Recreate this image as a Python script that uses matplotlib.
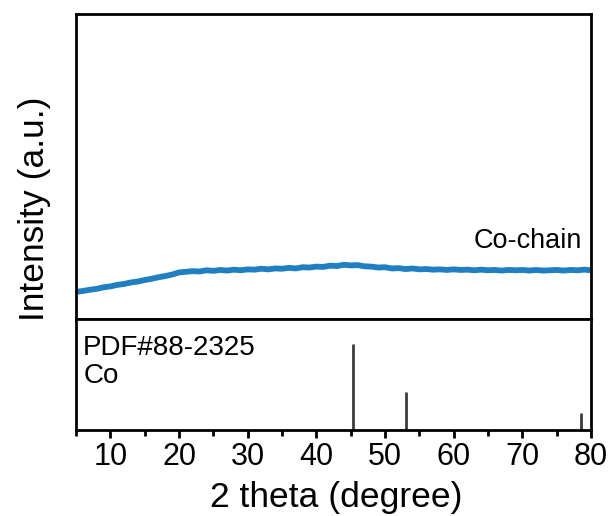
import numpy as np
import matplotlib.pyplot as plt

plt.rcParams['font.family'] = ['Liberation Sans', 'DejaVu Sans']

# Co-chain XRD pattern (arbitrary units)
two_theta = list(range(5, 81))
intensity = [8.9, 9.2, 9.6, 9.9, 10.4, 10.7, 11.2, 11.5, 12.0, 12.3,
             12.8, 13.2, 13.7, 14.1, 14.6, 15.3, 15.5, 15.7, 15.6, 16.0,
             15.8, 16.1, 15.9, 16.2, 16.0, 16.3, 16.2, 16.5, 16.3, 16.6,
             16.5, 16.8, 16.6, 17.0, 16.9, 17.2, 17.1, 17.5, 17.4, 17.8,
             17.6, 17.7, 17.3, 17.2, 16.9, 17.0, 16.6, 16.7, 16.4, 16.6,
             16.3, 16.4, 16.2, 16.3, 16.1, 16.3, 16.1, 16.2, 16.0, 16.2,
             16.0, 16.1, 15.9, 16.1, 16.0, 16.1, 15.9, 16.1, 15.9, 16.0,
             16.1, 15.9, 16.1, 16.0, 16.2, 16.0]

# reference card PDF#88-2325 (Co)
ref_pos = [45.4, 53.05, 78.6]
ref_int = [77, 33.7, 15.2]

fig = plt.figure(figsize=(6.14, 5.16), dpi=100)
ax1 = fig.add_axes([0.1238, 0.3818, 0.8388, 0.5901])
ax2 = fig.add_axes([0.1238, 0.1676, 0.8388, 0.2141])

ax1.plot(two_theta, intensity, color='#1f7fc0', lw=4.2)
ax1.set_xlim(5, 80)
ax1.set_ylim(0, 100)
ax1.set_xticks([])
ax1.set_yticks([])
ax1.text(0.982, 0.255, 'Co-chain', transform=ax1.transAxes,
         ha='right', va='center', fontsize=19.5)

ax2.vlines(ref_pos, 0, ref_int, color='#3c3c3c', lw=2)
ax2.set_xlim(5, 80)
ax2.set_ylim(0, 100)
ax2.set_yticks([])
ax2.set_xticks(range(10, 81, 10))
ax2.set_xticks(range(5, 81, 10), minor=True)
ax2.tick_params(axis='x', which='major', direction='out', length=6, width=2,
                labelsize=22, pad=3)
ax2.tick_params(axis='x', which='minor', direction='out', length=4, width=2)
ax2.text(0.014, 0.675, 'PDF#88-2325', transform=ax2.transAxes,
         ha='left', va='baseline', fontsize=20)
ax2.text(0.014, 0.42, 'Co', transform=ax2.transAxes,
         ha='left', va='baseline', fontsize=20)

for ax in (ax1, ax2):
    for sp in ax.spines.values():
        sp.set_linewidth(2)

fig.text(336 / 614, 1 - 497 / 516, '2 theta (degree)', ha='center', va='center',
         fontsize=25.5)
fig.text(35 / 614, 1 - 209 / 516, 'Intensity (a.u.)', ha='center', va='center',
         rotation=90, fontsize=25.5)

fig.savefig('out.png', dpi=100)
